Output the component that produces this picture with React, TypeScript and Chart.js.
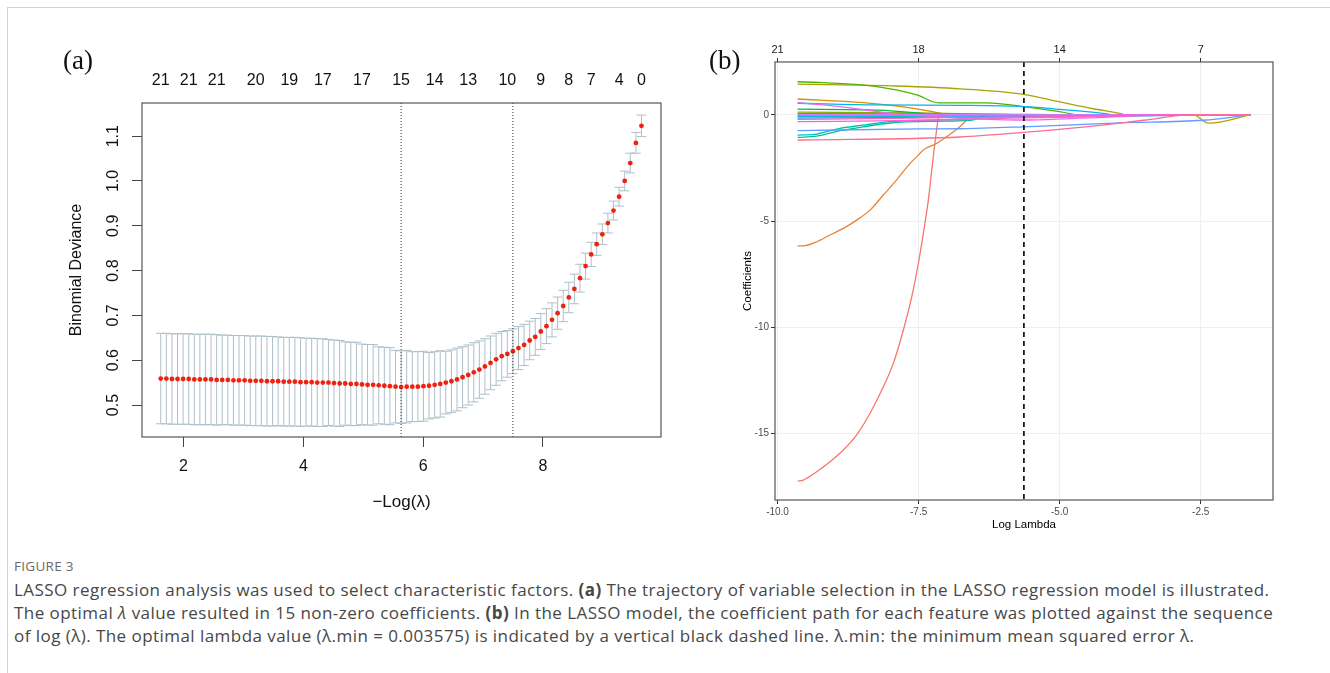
import React, { useEffect, useRef } from "react";
import { Chart, registerables } from "chart.js";

Chart.register(...registerables);

const SANS = '"Liberation Sans", Arial, Helvetica, sans-serif';
const SERIF = '"Liberation Serif", "Times New Roman", Times, serif';
const CAPTION_FONT = '"Open Sans", "Noto Sans", sans-serif';

// ---------------- Panel (a): cross-validation curve ----------------
const negLogLambda = [
  1.620, 1.713, 1.807, 1.900, 1.993, 2.087, 2.180, 2.273, 2.366, 2.460,
  2.553, 2.646, 2.740, 2.833, 2.926, 3.020, 3.113, 3.206, 3.299, 3.393,
  3.486, 3.579, 3.673, 3.766, 3.859, 3.953, 4.046, 4.139, 4.232, 4.326,
  4.419, 4.512, 4.606, 4.699, 4.792, 4.886, 4.979, 5.072, 5.165, 5.259,
  5.352, 5.445, 5.539, 5.632, 5.725, 5.819, 5.912, 6.005, 6.098, 6.192,
  6.285, 6.378, 6.472, 6.565, 6.658, 6.752, 6.845, 6.938, 7.031, 7.125,
  7.218, 7.311, 7.405, 7.498, 7.591, 7.685, 7.778, 7.871, 7.964, 8.058,
  8.151, 8.244, 8.338, 8.431, 8.524, 8.618, 8.711, 8.804, 8.897, 8.991,
  9.084, 9.177, 9.271, 9.364, 9.457, 9.551, 9.644,
];
const cvMean = [
  0.559, 0.559, 0.558, 0.558, 0.558, 0.558, 0.557, 0.557, 0.557, 0.557,
  0.556, 0.556, 0.556, 0.555, 0.555, 0.555, 0.554, 0.554, 0.554, 0.553,
  0.553, 0.553, 0.552, 0.552, 0.552, 0.551, 0.551, 0.551, 0.550, 0.550,
  0.550, 0.549, 0.548, 0.548, 0.547, 0.547, 0.546, 0.545, 0.545, 0.544,
  0.543, 0.542, 0.541, 0.540, 0.541, 0.541, 0.541, 0.542, 0.543, 0.545,
  0.547, 0.550, 0.553, 0.557, 0.562, 0.567, 0.573, 0.579, 0.586, 0.594,
  0.602, 0.609, 0.614, 0.620, 0.627, 0.634, 0.644, 0.652, 0.664, 0.676,
  0.690, 0.705, 0.721, 0.740, 0.759, 0.783, 0.810, 0.836, 0.859, 0.881,
  0.906, 0.934, 0.965, 1.000, 1.040, 1.085, 1.123,
];
const cvSE = [
  0.101, 0.101, 0.101, 0.101, 0.101, 0.101, 0.101, 0.101, 0.101, 0.101,
  0.101, 0.100, 0.100, 0.100, 0.100, 0.100, 0.100, 0.100, 0.100, 0.100,
  0.100, 0.099, 0.099, 0.099, 0.099, 0.099, 0.098, 0.098, 0.098, 0.098,
  0.096, 0.096, 0.096, 0.093, 0.093, 0.093, 0.090, 0.090, 0.090, 0.086,
  0.086, 0.086, 0.081, 0.081, 0.081, 0.078, 0.078, 0.078, 0.074, 0.074,
  0.074, 0.070, 0.070, 0.070, 0.068, 0.067, 0.066, 0.064, 0.062, 0.060,
  0.058, 0.055, 0.052, 0.050, 0.048, 0.046, 0.043, 0.041, 0.040, 0.039,
  0.038, 0.036, 0.035, 0.034, 0.033, 0.031, 0.029, 0.027, 0.025, 0.023,
  0.022, 0.021, 0.021, 0.022, 0.022, 0.023, 0.024,
];
const xTicksA = [2, 4, 6, 8];
const yTicksA = [0.5, 0.6, 0.7, 0.8, 0.9, 1.0, 1.1];
const nzeroTopX = [1.620, 2.087, 2.553, 3.206, 3.766, 4.326, 4.979, 5.632, 6.192, 6.752, 7.405, 7.964, 8.431, 8.804, 9.271, 9.644];
const nzeroTopLabels = ["21", "21", "21", "20", "19", "17", "17", "15", "14", "13", "10", "9", "8", "7", "4", "0"];
const lambdaMinNegLog = 5.632;
const lambda1seNegLog = 7.498;

// ---------------- Panel (b): coefficient paths (log lambda, coefficient) ----------------
const coefPath01 = [[-9.644, -17.23], [-9.543, -17.18], [-9.306, -16.79], [-9.07, -16.32], [-8.834, -15.77], [-8.597, -15.06], [-8.361, -14.04], [-8.125, -12.79], [-7.948, -11.69], [-7.77, -10.12], [-7.621, -8.55], [-7.504, -6.98], [-7.416, -5.57], [-7.327, -4.0], [-7.267, -2.59], [-7.226, -1.65], [-7.15, -0.16], [-7.13, 0], [-1.62, 0]];
const coefPath02 = [[-9.644, -6.16], [-9.543, -6.16], [-9.306, -5.97], [-9.07, -5.65], [-8.834, -5.34], [-8.597, -4.95], [-8.361, -4.48], [-8.125, -3.77], [-7.889, -3.06], [-7.652, -2.28], [-7.504, -1.89], [-7.416, -1.65], [-7.18, -1.34], [-7.0, -1.02], [-6.765, -0.55], [-6.588, -0.08], [-6.55, 0], [-1.62, 0]];
const coefPath03 = [[-9.644, 0.75], [-8.479, 0.58], [-7.593, 0.31], [-7.12, 0.08], [-7.0, 0], [-1.62, 0]];
const coefPath04 = [[-9.644, -0.04], [-7.5, -0.02], [-6.5, 0], [-2.628, 0], [-2.362, -0.39], [-1.62, 0]];
const coefPath05 = [[-9.644, 1.45], [-7.887, 1.36], [-6.765, 1.23], [-5.643, 0.97], [-4.992, 0.61], [-4.401, 0.29], [-3.869, 0.03], [-3.84, 0], [-1.62, 0]];
const coefPath06 = [[-9.644, 0.13], [-7.5, 0.09], [-6.0, 0.03], [-5.2, 0], [-1.62, 0]];
const coefPath07 = [[-9.644, 1.56], [-9.2, 1.52], [-8.242, 1.33], [-7.533, 0.94], [-7.15, 0.57], [-6.291, 0.57], [-5.643, 0.39], [-4.756, 0.03], [-4.72, 0], [-1.62, 0]];
const coefPath08 = [[-9.644, 0.27], [-8.242, 0.23], [-7.533, 0.1], [-7.2, 0], [-1.62, 0]];
const coefPath09 = [[-9.644, 0.06], [-7.0, 0.04], [-5.5, 0.02], [-4.6, 0], [-1.62, 0]];
const coefPath10 = [[-9.644, -1.06], [-9.306, -1.0], [-8.893, -0.74], [-8.479, -0.56], [-8.006, -0.38], [-7.18, -0.3], [-6.588, -0.26], [-6.2, 0], [-1.62, 0]];
const coefPath11 = [[-9.644, -0.95], [-9.306, -0.9], [-8.893, -0.63], [-8.479, -0.48], [-8.006, -0.32], [-7.18, -0.24], [-6.588, -0.21], [-6.233, 0], [-1.62, 0]];
const coefPath12 = [[-9.644, -0.08], [-7.0, -0.06], [-5.0, -0.03], [-3.0, 0], [-1.62, 0]];
const coefPath13 = [[-9.644, 0.55], [-8.242, 0.47], [-6.765, 0.45], [-5.643, 0.39], [-4.992, 0.26], [-4.105, 0.03], [-4.05, 0], [-1.62, 0]];
const coefPath14 = [[-9.644, -0.15], [-7.5, -0.12], [-5.5, -0.08], [-3.5, -0.04], [-2.2, 0], [-1.62, 0]];
const coefPath15 = [[-9.644, -0.74], [-7.5, -0.66], [-6.765, -0.65], [-5.643, -0.56], [-3.928, -0.37], [-2.456, -0.25], [-1.62, 0]];
const coefPath16 = [[-9.644, -0.02], [-7.0, -0.01], [-6.0, 0], [-1.62, 0]];
const coefPath17 = [[-9.644, 0.03], [-6.5, 0.01], [-5.8, 0], [-1.62, 0]];
const coefPath18 = [[-9.644, 0.58], [-8.893, 0.39], [-8.242, 0.16], [-7.7, 0.0], [-7.2, -0.08], [-6.706, -0.16], [-5.643, -0.24], [-4.8, -0.17], [-3.928, -0.08], [-3.455, 0], [-1.62, 0]];
const coefPath19 = [[-9.644, -0.32], [-7.5, -0.26], [-6.0, -0.16], [-4.5, -0.08], [-3.8, 0], [-1.62, 0]];
const coefPath20 = [[-9.644, -0.21], [-8.0, -0.16], [-6.0, -0.1], [-4.0, -0.05], [-2.8, 0], [-1.62, 0]];
const coefPath21 = [[-9.644, -1.18], [-6.765, -1.04], [-5.643, -0.82], [-4.5, -0.55], [-3.5, -0.25], [-2.687, 0], [-1.62, 0]];

const coefColors = [
  "#F8766D", "#EB8335", "#D98F00", "#C39A00", "#A8A400", "#86AC00", "#4FB400",
  "#00BA38", "#00BE6E", "#00C097", "#00C1B5", "#00BDD2", "#00B5EA", "#00A9FF",
  "#619CFF", "#A58AFF", "#CE79FF", "#EB69F0", "#F962D6", "#FF62BA", "#FF6C90",
];
const xTicksB = [-10, -7.5, -5, -2.5];
const nzeroTopB = ["21", "18", "14", "7"];
const yTicksB = [-15, -10, -5, 0];
const bestLogLambda = -5.634;

const coefPaths = [
  coefPath01, coefPath02, coefPath03, coefPath04, coefPath05, coefPath06, coefPath07,
  coefPath08, coefPath09, coefPath10, coefPath11, coefPath12, coefPath13, coefPath14,
  coefPath15, coefPath16, coefPath17, coefPath18, coefPath19, coefPath20, coefPath21,
];

// ---------------- plugins ----------------
const framePlugin = (color: string, width: number) => ({
  id: "frame",
  afterDraw(chart: any) {
    const { ctx, chartArea } = chart;
    ctx.save();
    ctx.strokeStyle = color;
    ctx.lineWidth = width;
    ctx.strokeRect(chartArea.left, chartArea.top, chartArea.right - chartArea.left, chartArea.bottom - chartArea.top);
    ctx.restore();
  },
});

const errorBarPlugin = {
  id: "cvErrorBars",
  beforeDatasetsDraw(chart: any) {
    const xs = chart.scales.x;
    const ys = chart.scales.y;
    const ctx = chart.ctx;
    const span = Math.max(...negLogLambda) - Math.min(...negLogLambda);
    const cap = span * 0.01;
    ctx.save();
    ctx.strokeStyle = "#aebfc8";
    ctx.lineWidth = 1;
    negLogLambda.forEach((x, i) => {
      const px = xs.getPixelForValue(x);
      const pu = ys.getPixelForValue(cvMean[i] + cvSE[i]);
      const pl = ys.getPixelForValue(cvMean[i] - cvSE[i]);
      const c0 = xs.getPixelForValue(x - cap);
      const c1 = xs.getPixelForValue(x + cap);
      ctx.beginPath();
      ctx.moveTo(px, pu);
      ctx.lineTo(px, pl);
      ctx.moveTo(c0, pu);
      ctx.lineTo(c1, pu);
      ctx.moveTo(c0, pl);
      ctx.lineTo(c1, pl);
      ctx.stroke();
    });
    ctx.restore();
  },
};

const vLinePlugin = (values: number[], color: string, width: number, dash: number[]) => ({
  id: "vlines",
  afterDatasetsDraw(chart: any) {
    const xs = chart.scales.x;
    const { ctx, chartArea } = chart;
    ctx.save();
    ctx.strokeStyle = color;
    ctx.lineWidth = width;
    ctx.setLineDash(dash);
    values.forEach((v) => {
      const px = xs.getPixelForValue(v);
      ctx.beginPath();
      ctx.moveTo(px, chartArea.top);
      ctx.lineTo(px, chartArea.bottom);
      ctx.stroke();
    });
    ctx.restore();
  },
});

const rotatedYLabels = {
  id: "rotatedYLabels",
  afterDraw(chart: any) {
    const ys = chart.scales.y;
    const { ctx, chartArea } = chart;
    ctx.save();
    ctx.font = `16px ${SANS}`;
    ctx.fillStyle = "#111";
    ctx.textAlign = "center";
    ctx.textBaseline = "middle";
    ys.ticks.forEach((t: any) => {
      const py = ys.getPixelForValue(t.value);
      ctx.save();
      ctx.translate(chartArea.left - 28, py);
      ctx.rotate(-Math.PI / 2);
      ctx.fillText(Number(t.value).toFixed(1), 0, 0);
      ctx.restore();
    });
    ctx.restore();
  },
};

function setTicks(values: number[]) {
  return (scale: any) => {
    scale.ticks = values.map((v) => ({ value: v }));
  };
}

function configA(): any {
  const xMin = 1.307;
  const xMax = 9.97;
  return {
    type: "scatter",
    data: {
      datasets: [
        {
          data: negLogLambda.map((x, i) => ({ x, y: cvMean[i] })),
          xAxisID: "x",
          yAxisID: "y",
          showLine: false,
          pointRadius: 2.4,
          pointBorderWidth: 0,
          pointBackgroundColor: "#ee2211",
        },
      ],
    },
    options: {
      animation: false,
      responsive: false,
      devicePixelRatio: 1,
      events: [],
      layout: { padding: { left: 0, right: 19, top: 0, bottom: 0 } },
      plugins: { legend: { display: false }, tooltip: { enabled: false } },
      scales: {
        x: {
          type: "linear",
          position: "bottom",
          min: xMin,
          max: xMax,
          afterBuildTicks: setTicks(xTicksA),
          afterFit: (s: any) => { s.height = 93; },
          grid: { display: true, drawOnChartArea: false, drawTicks: true, tickLength: 10, tickColor: "#444", color: "#444" },
          border: { display: false },
          ticks: { padding: 10, color: "#111", font: { family: SANS, size: 16 }, maxRotation: 0, autoSkip: false, callback: (v: any) => String(v) },
          title: { display: true, text: "\u2212Log(\u03bb)", color: "#111", font: { family: SANS, size: 17 }, padding: 17.8 },
        },
        x2: {
          type: "linear",
          position: "top",
          min: xMin,
          max: xMax,
          afterBuildTicks: setTicks(nzeroTopX),
          afterFit: (s: any) => { s.height = 63; },
          grid: { display: false, drawTicks: false },
          border: { display: false },
          ticks: { padding: 13, color: "#111", font: { family: SANS, size: 16 }, maxRotation: 0, autoSkip: false, callback: (_v: any, i: number) => nzeroTopLabels[i] },
        },
        y: {
          type: "linear",
          position: "left",
          min: 0.4286,
          max: 1.174,
          afterBuildTicks: setTicks(yTicksA),
          afterFit: (s: any) => { s.width = 102; },
          grid: { display: true, drawOnChartArea: false, drawTicks: true, tickLength: 10, tickColor: "#444", color: "#444" },
          border: { display: false },
          ticks: { color: "rgba(0,0,0,0)", font: { family: SANS, size: 16 } },
          title: { display: true, text: "Binomial Deviance", color: "#111", font: { family: SANS, size: 16 }, padding: 27 },
        },
      },
    },
    plugins: [errorBarPlugin, vLinePlugin([lambdaMinNegLog, lambda1seNegLog], "#333", 1, [1, 2]), framePlugin("#555", 1.2), rotatedYLabels],
  };
}

function configB(): any {
  const xMin = -10.045;
  const xMax = -1.219;
  const n = coefPaths.length;
  return {
    type: "scatter",
    data: {
      datasets: coefPaths.map((p, i) => ({
        data: p.map(([x, y]) => ({ x, y })),
        xAxisID: "x",
        yAxisID: "y",
        showLine: true,
        fill: false,
        pointRadius: 0,
        borderWidth: 1.3,
        borderColor: coefColors[i],
        cubicInterpolationMode: "monotone",
        order: n - i,
      })),
    },
    options: {
      animation: false,
      responsive: false,
      devicePixelRatio: 1,
      events: [],
      layout: { padding: { left: 0, right: 27, top: 0, bottom: 0 } },
      plugins: { legend: { display: false }, tooltip: { enabled: false } },
      scales: {
        x: {
          type: "linear",
          position: "bottom",
          min: xMin,
          max: xMax,
          afterBuildTicks: setTicks(xTicksB),
          afterFit: (s: any) => { s.height = 40; },
          grid: { display: true, color: "#ECF0F2", lineWidth: 1, drawTicks: true, tickLength: 4, tickColor: "#333" },
          border: { display: false },
          ticks: { padding: 2, color: "#4D4D4D", font: { family: SANS, size: 10 }, maxRotation: 0, autoSkip: false, callback: (v: any) => Number(v).toFixed(1) },
          title: { display: true, text: "Log Lambda", color: "#000", font: { family: SANS, size: 11.5 }, padding: 8 },
        },
        x2: {
          type: "linear",
          position: "top",
          min: xMin,
          max: xMax,
          afterBuildTicks: setTicks(xTicksB),
          afterFit: (s: any) => { s.height = 42; },
          grid: { display: true, drawOnChartArea: false, drawTicks: true, tickLength: 4, tickColor: "#333" },
          border: { display: false },
          ticks: { padding: 1.5, color: "#1a1a1a", font: { family: SANS, size: 11 }, maxRotation: 0, autoSkip: false, callback: (_v: any, i: number) => nzeroTopB[i] },
        },
        y: {
          type: "linear",
          position: "left",
          min: -18.12,
          max: 2.49,
          afterBuildTicks: setTicks(yTicksB),
          afterFit: (s: any) => { s.width = 75; },
          grid: { display: true, color: "#ECF0F2", lineWidth: 1, drawTicks: true, tickLength: 4, tickColor: "#333" },
          border: { display: false },
          ticks: { padding: 2, color: "#4D4D4D", font: { family: SANS, size: 10 }, callback: (v: any) => String(v) },
          title: { display: true, text: "Coefficients", color: "#000", font: { family: SANS, size: 11.5 }, padding: 41 },
        },
      },
    },
    plugins: [vLinePlugin([bestLogLambda], "#1a1a1a", 1.8, [5, 4]), framePlugin("#555", 1.2)],
  };
}

export default function App() {
  const refA = useRef<HTMLCanvasElement>(null);
  const refB = useRef<HTMLCanvasElement>(null);

  useEffect(() => {
    const a = new Chart(refA.current as HTMLCanvasElement, configA());
    const b = new Chart(refB.current as HTMLCanvasElement, configB());
    return () => {
      a.destroy();
      b.destroy();
    };
  }, []);

  const panelLabel: React.CSSProperties = {
    position: "absolute",
    fontFamily: SERIF,
    fontSize: 27,
    lineHeight: "27px",
    color: "#111",
  };

  return (
    <div style={{ position: "absolute", left: 0, top: 0, width: 1330, height: 673, overflow: "hidden", background: "#fff" }}>
      <div style={{ position: "absolute", left: 7, top: 7, width: 1400, height: 800, borderTop: "1px solid #d2d2d2", borderLeft: "1px solid #d2d2d2" }} />
      <canvas ref={refA} width={640} height={490} style={{ position: "absolute", left: 40, top: 40, width: 640, height: 490 }} />
      <canvas ref={refB} width={600} height={520} style={{ position: "absolute", left: 700, top: 20, width: 600, height: 520 }} />
      <div style={{ ...panelLabel, left: 63, top: 47 }}>(a)</div>
      <div style={{ ...panelLabel, left: 709, top: 47 }}>(b)</div>
      <div style={{ position: "absolute", left: 14, top: 558, fontFamily: CAPTION_FONT, fontSize: 13.5, lineHeight: "16px", color: "#6a6a6a", letterSpacing: "0.3px" }}>FIGURE 3</div>
      <div style={{ position: "absolute", left: 14, top: 578, fontFamily: CAPTION_FONT, fontSize: 17, lineHeight: "23px", letterSpacing: "0.45px", color: "#474747", whiteSpace: "nowrap" }}>
        <div>LASSO regression analysis was used to select characteristic factors. <b>(a)</b> The trajectory of variable selection in the LASSO regression model is illustrated.</div>
        <div>The optimal <i>λ</i> value resulted in 15 non-zero coefficients. <b>(b)</b> In the LASSO model, the coefficient path for each feature was plotted against the sequence</div>
        <div>of log (λ). The optimal lambda value (λ.min = 0.003575) is indicated by a vertical black dashed line. λ.min: the minimum mean squared error λ.</div>
      </div>
    </div>
  );
}
